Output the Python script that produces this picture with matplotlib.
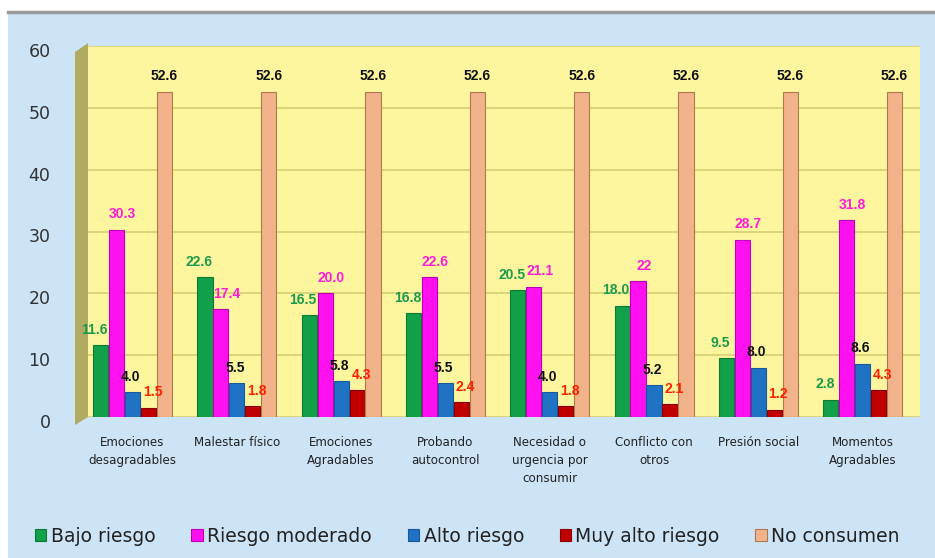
import matplotlib
matplotlib.use("Agg")
import matplotlib.pyplot as plt
import matplotlib.transforms as mtransforms
import numpy as np
from matplotlib.patches import Polygon, Rectangle
from matplotlib.lines import Line2D

categories = ["Emociones\ndesagradables", "Malestar físico", "Emociones\nAgradables",
              "Probando\nautocontrol", "Necesidad o\nurgencia por\nconsumir", "Conflicto con\notros",
              "Presión social", "Momentos\nAgradables"]
series_names = ["Bajo riesgo", "Riesgo moderado", "Alto riesgo", "Muy alto riesgo", "No consumen"]
bajo = [11.6, 22.6, 16.5, 16.8, 20.5, 18.0, 9.5, 2.8]
moderado = [30.3, 17.4, 20.0, 22.6, 21.1, 22, 28.7, 31.8]
alto = [4.0, 5.5, 5.8, 5.5, 4.0, 5.2, 8.0, 8.6]
muy_alto = [1.5, 1.8, 4.3, 2.4, 1.8, 2.1, 1.2, 4.3]
no_consumen = [52.6, 52.6, 52.6, 52.6, 52.6, 52.6, 52.6, 52.6]
bajo_lbl = ["11.6", "22.6", "16.5", "16.8", "20.5", "18.0", "9.5", "2.8"]
moderado_lbl = ["30.3", "17.4", "20.0", "22.6", "21.1", "22", "28.7", "31.8"]
alto_lbl = ["4.0", "5.5", "5.8", "5.5", "4.0", "5.2", "8.0", "8.6"]
muy_alto_lbl = ["1.5", "1.8", "4.3", "2.4", "1.8", "2.1", "1.2", "4.3"]
no_lbl = ["52.6"] * 8

series = [bajo, moderado, alto, muy_alto, no_consumen]
labels = [bajo_lbl, moderado_lbl, alto_lbl, muy_alto_lbl, no_lbl]
colors = ["#12a04a", "#ff10f0", "#1f72c4", "#c00000", "#f2b28a"]
edges = ["#0d7a36", "#c000b8", "#165a9c", "#8a0000", "#b07a50"]
lbl_colors = ["#1a9a4a", "#ff1cd8", "#111111", "#ff2000", "#111111"]
lbl_dx = [-6, 6, -2, 4, 0]  # small horizontal nudges (points) so labels do not collide

W, H = 935, 558
fig = plt.figure(figsize=(W / 100, H / 100), dpi=100)
fig.patch.set_facecolor("white")
# light blue background panel
fig.patches.append(Rectangle((8 / W, 0), (W - 8) / W, (H - 13) / H, transform=fig.transFigure,
                             facecolor="#cde3f6", edgecolor="none", zorder=-10))
fig.lines.append(Line2D([8 / W, 1], [1 - 12 / H, 1 - 12 / H], transform=fig.transFigure,
                        color="#9a9a9a", lw=2.5, zorder=-5))

left, right, top, bottom = 88, 920, 46, 417
ax = fig.add_axes([left / W, 1 - bottom / H, (right - left) / W, (bottom - top) / H])
ax.set_facecolor("#fdf69e")
ax.set_zorder(1)

# olive side wall
fig.patches.append(Polygon([(75 / W, 1 - 425 / H), (88 / W, 1 - 417 / H), (88 / W, 1 - 43 / H),
                            (75 / W, 1 - 52 / H)], closed=True, transform=fig.transFigure,
                           facecolor="#b1ab62", edgecolor="none", zorder=-1))

x = np.arange(len(categories))
bw = 0.153
offsets = (np.arange(5) - 2) * bw
for i, (vals, lbls) in enumerate(zip(series, labels)):
    ax.bar(x + offsets[i], vals, width=bw * 0.95, color=colors[i], edgecolor=edges[i],
           linewidth=0.8, zorder=3, label=series_names[i])
    for xi, v, t in zip(x + offsets[i], vals, lbls):
        ax.annotate(t, (xi, v), xytext=(lbl_dx[i] * 0.72, 6), textcoords="offset points",
                    ha="center", va="bottom", color=lbl_colors[i], fontsize=10,
                    fontweight="bold", family=["Liberation Sans", "DejaVu Sans"], zorder=5)

ax.set_xlim(-0.427, 7.55)
ax.set_ylim(0, 60)
ax.set_yticks(np.arange(0, 61, 10))
ax.yaxis.grid(True, color="#d6cf72", lw=1.2, zorder=0)
ax.set_axisbelow(True)
for s in ax.spines.values():
    s.set_visible(False)
ax.tick_params(axis="y", length=0, pad=27, labelsize=12.5, labelcolor="#333333")
ax.tick_params(axis="x", length=0, pad=14)
ax.set_xticks(x)
ax.set_xticklabels(categories, fontsize=8.6, color="#222222", linespacing=1.5)
shift = mtransforms.ScaledTranslation(0, -4 / 100, fig.dpi_scale_trans)
for lab in ax.get_yticklabels():
    lab.set_transform(lab.get_transform() + shift)

handles, hl = ax.get_legend_handles_labels()
leg = fig.legend(handles, hl, loc="center", bbox_to_anchor=(0.5, 1 - 536 / H), ncol=5,
                 frameon=False, fontsize=13.5, handlelength=0.6, handleheight=0.6,
                 handletextpad=0.25, columnspacing=1.9, labelcolor="#222222")

fig.savefig("out.png", dpi=100, facecolor=fig.get_facecolor())
